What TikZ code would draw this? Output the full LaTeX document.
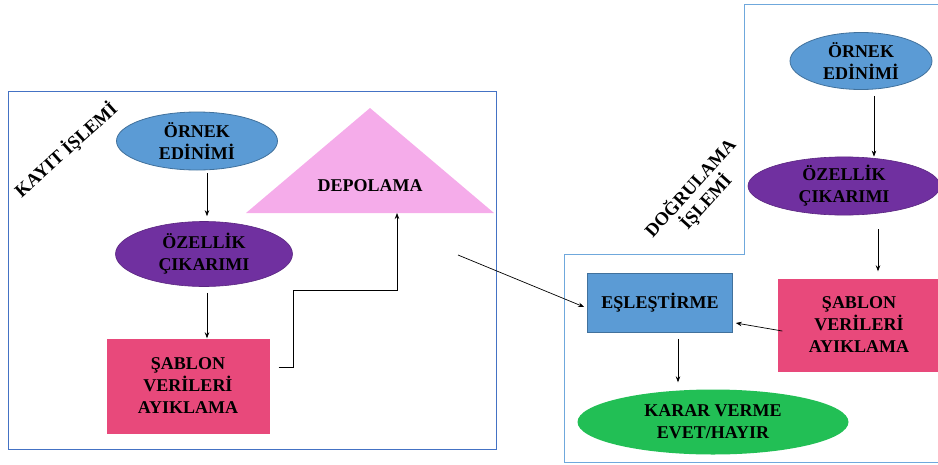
\documentclass[tikz,border=0pt]{standalone}
\usepackage{fontspec}
\setmainfont{Liberation Serif}
\usetikzlibrary{shapes.geometric,arrows.meta}
\definecolor{cblue}{HTML}{5B9BD5}
\definecolor{cblueline}{HTML}{41719C}
\definecolor{cpurple}{HTML}{7030A0}
\definecolor{cpink}{HTML}{E8497B}
\definecolor{clightpink}{HTML}{F5ACEA}
\definecolor{cgreen}{HTML}{22BF55}
\definecolor{cframeL}{HTML}{4472C4}
\definecolor{cframeR}{HTML}{6FA8DC}
\tikzset{
  lbl/.style={font=\bfseries\fontsize{18}{22}\selectfont, align=center, text=black},
  ellblue/.style={lbl, ellipse, fill=cblue, draw=cblueline, line width=0.8pt, inner sep=0pt},
  ellpurple/.style={lbl, ellipse, fill=cpurple, draw=cpurple!80!black, line width=0.6pt, inner sep=0pt},
  ellgreen/.style={lbl, ellipse, fill=cgreen, draw=none, inner sep=0pt},
  pinkbox/.style={lbl, rectangle, fill=cpink, draw=none, inner sep=0pt},
  bluebox/.style={lbl, rectangle, fill=cblue, draw=cblueline, line width=0.6pt, inner sep=0pt},
  arr/.style={-{Stealth[length=6pt,width=4.5pt]}, line width=0.7pt, black},
  tag/.style={font=\bfseries\fontsize{18.5}{21}\selectfont, align=center, text=black, inner sep=0pt}
}
\begin{document}
\begin{tikzpicture}[x=1pt,y=-1pt]
\useasboundingbox (0,0) rectangle (938,464);

% frames
\draw[cframeL, line width=0.8pt] (8,91) rectangle (496,449);
\draw[cframeR, line width=0.8pt] (944,4) -- (744,4) -- (744,254) -- (564,254) -- (564,462) -- (944,462);

% registration side
\node[ellblue, minimum width=161, minimum height=58] (orn1) at (197,141) {ÖRNEK\\EDİNİMİ};
\node[ellpurple, minimum width=177, minimum height=65] (oz1) at (204,254) {ÖZELLİK\\ÇIKARIMI};
\node[pinkbox, minimum width=163, minimum height=95] (sab1) at (188,386) {ŞABLON\\VERİLERİ\\AYIKLAMA};

\fill[clightpink] (246,213) -- (370,108) -- (494,213) -- cycle;
\node[lbl] (dep) at (370,186) {DEPOLAMA};
\coordinate (depbase) at (397,213);

\node[tag, rotate=42] (kayit) at (66,150) {KAYIT İŞLEMİ};

\draw[arr] ([shift={(10,3)}]orn1.south) -- ([shift={(3,-5)}]oz1.north);
\draw[arr] ([shift={(3,6)}]oz1.south) -- ([shift={(19,0)}]sab1.north);
\draw[arr] ([shift={(9,-19)}]sab1.east) -- ++(15,0) |- ([shift={(0,77)}]depbase) -- (depbase);

% verification side
\node[ellblue, minimum width=142, minimum height=57] (orn2) at (861,61) {ÖRNEK\\EDİNİMİ};
\node[ellpurple, minimum width=192, minimum height=55] (oz2) at (844,186) {ÖZELLİK\\ÇIKARIMI};
\node[pinkbox, minimum width=163, minimum height=93] (sab2) at (859,325) {ŞABLON\\VERİLERİ\\AYIKLAMA};
\node[bluebox, minimum width=145, minimum height=59] (esl) at (660,303) {EŞLEŞTİRME};
\node[ellgreen, minimum width=271, minimum height=65] (karar) at (713,422) {KARAR VERME\\EVET/HAYIR};

\node[tag, rotate=48] (dogr) at (698,195) {DOĞRULAMA\\İŞLEMİ};

\draw[arr] ([shift={(13,6)}]orn2.south) -- ([shift={(30,0)}]oz2.north);
\draw[arr] ([shift={(34,14)}]oz2.south) -- ([shift={(19,-7)}]sab2.north);
\draw[arr] ([shift={(5,6)}]sab2.west) -- ([shift={(3,20)}]esl.east);
\draw[arr] ([shift={(18,6)}]esl.south) -- ([shift={(-35,-7)}]karar.north);

\coordinate (fromstore) at (458,255);
\draw[arr] (fromstore) -- ([shift={(-3,4)}]esl.west);
\end{tikzpicture}
\end{document}
